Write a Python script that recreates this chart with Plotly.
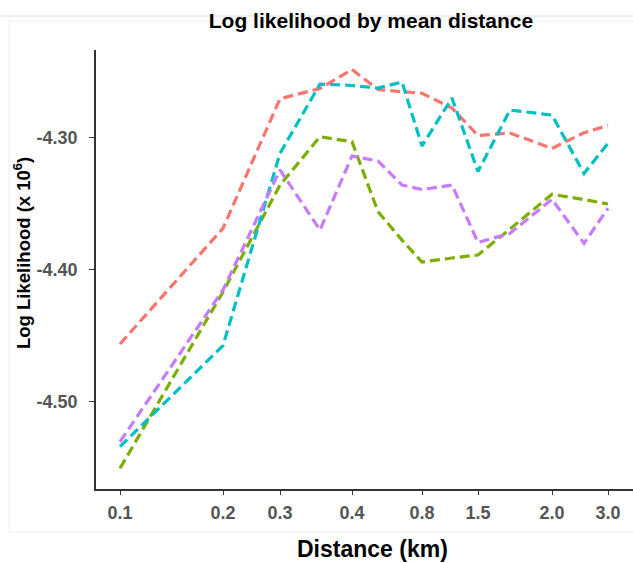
import plotly.graph_objects as go

# Positions of the fitted models along the distance axis, and the labelled breaks
x_pos = [0, 103, 160, 200, 232, 258, 282, 302, 332, 358, 390, 432, 464, 488]
tick_pos = [0, 103, 160, 232, 302, 358, 432, 488]
tick_labels = ["0.1", "0.2", "0.3", "0.4", "0.8", "1.5", "2.0", "3.0"]

# Log likelihood (x 10^6) for each model family
ll_red = [-4.4564, -4.3688, -4.2706, -4.2629, -4.2485, -4.2636, -4.2653,
          -4.2665, -4.2777, -4.2985, -4.2966, -4.3083, -4.2964, -4.2909]
ll_cyan = [-4.5342, -4.4576, -4.3120, -4.2595, -4.2606, -4.2625, -4.2580,
           -4.3064, -4.2701, -4.3258, -4.2792, -4.2830, -4.3273, -4.3044]
ll_green = [-4.5506, -4.4170, -4.3360, -4.2994, -4.3032, -4.3562, -4.3777,
            -4.3943, -4.3913, -4.3890, -4.3693, -4.3430, -4.3470, -4.3504]
ll_purple = [-4.5305, -4.4155, -4.3246, -4.3701, -4.3140, -4.3178, -4.3360,
             -4.3394, -4.3360, -4.3795, -4.3726, -4.3468, -4.3802, -4.3536]

series = [
    (ll_red, "#F8766D"),
    (ll_green, "#7CAE00"),
    (ll_cyan, "#00BFC4"),
    (ll_purple, "#C77CFF"),
]

W, H = 633, 563
ML, MR, MT, MB = 96, 0, 50, 74
PW, PH = W - ML - MR, H - MT - MB


def px_x(px):
    return (px - ML) / PW


def px_y(py):
    return (H - MB - py) / PH


fig = go.Figure()
for vals, col in series:
    fig.add_trace(go.Scatter(
        x=x_pos, y=vals, mode="lines",
        line=dict(color=col, width=3.2, dash="10px,5px"),
        hoverinfo="skip", showlegend=False,
    ))

FONT = "Liberation Sans, Arial, sans-serif"
tick_font = dict(family=FONT, size=18, color="#555555", weight="bold")

fig.update_layout(
    width=W, height=H,
    margin=dict(l=ML, r=MR, t=MT, b=MB),
    paper_bgcolor="white", plot_bgcolor="white",
    showlegend=False,
    title=dict(
        text="Log likelihood by mean distance",
        font=dict(family=FONT, size=21, color="black", weight="bold"),
        x=371 / W, xref="container", xanchor="center",
        y=1 - 21 / H, yref="container", yanchor="middle",
    ),
    xaxis=dict(
        range=[-24, 513], showgrid=False, zeroline=False,
        showline=True, linecolor="#333333", linewidth=1.6,
        tickmode="array", tickvals=tick_pos, ticktext=tick_labels,
        ticks="outside", ticklen=4, tickwidth=1.4, tickcolor="#333333",
        tickfont=tick_font, ticklabelstandoff=3,
    ),
    yaxis=dict(
        range=[-4.5663, -4.2337], showgrid=False, zeroline=False,
        showline=True, linecolor="#333333", linewidth=1.6,
        tickmode="array", tickvals=[-4.5, -4.4, -4.3],
        ticktext=["-4.50", "-4.40", "-4.30"],
        ticks="outside", ticklen=5, tickwidth=1.4, tickcolor="#333333",
        tickfont=tick_font, ticklabelstandoff=8,
    ),
    annotations=[
        dict(text="Log Likelihood (x 10<sup>6</sup>)", textangle=-90,
             x=px_x(22), y=px_y(253), xref="paper", yref="paper",
             showarrow=False, xanchor="center", yanchor="middle",
             font=dict(family=FONT, size=18.5, color="black", weight="bold")),
        dict(text="Distance (km)",
             x=px_x(372), y=px_y(549), xref="paper", yref="paper",
             showarrow=False, xanchor="center", yanchor="middle",
             font=dict(family=FONT, size=23, color="black", weight="bold")),
    ],
    shapes=[
        dict(type="line", xref="paper", yref="paper",
             x0=px_x(0), x1=px_x(W), y0=px_y(16), y1=px_y(16),
             line=dict(color="#dddddd", width=1)),
        dict(type="rect", xref="paper", yref="paper",
             x0=px_x(9), x1=px_x(W + 2), y0=px_y(532), y1=px_y(21),
             line=dict(color="#eeeeee", width=1)),
    ],
)

fig.write_html("out.html")
